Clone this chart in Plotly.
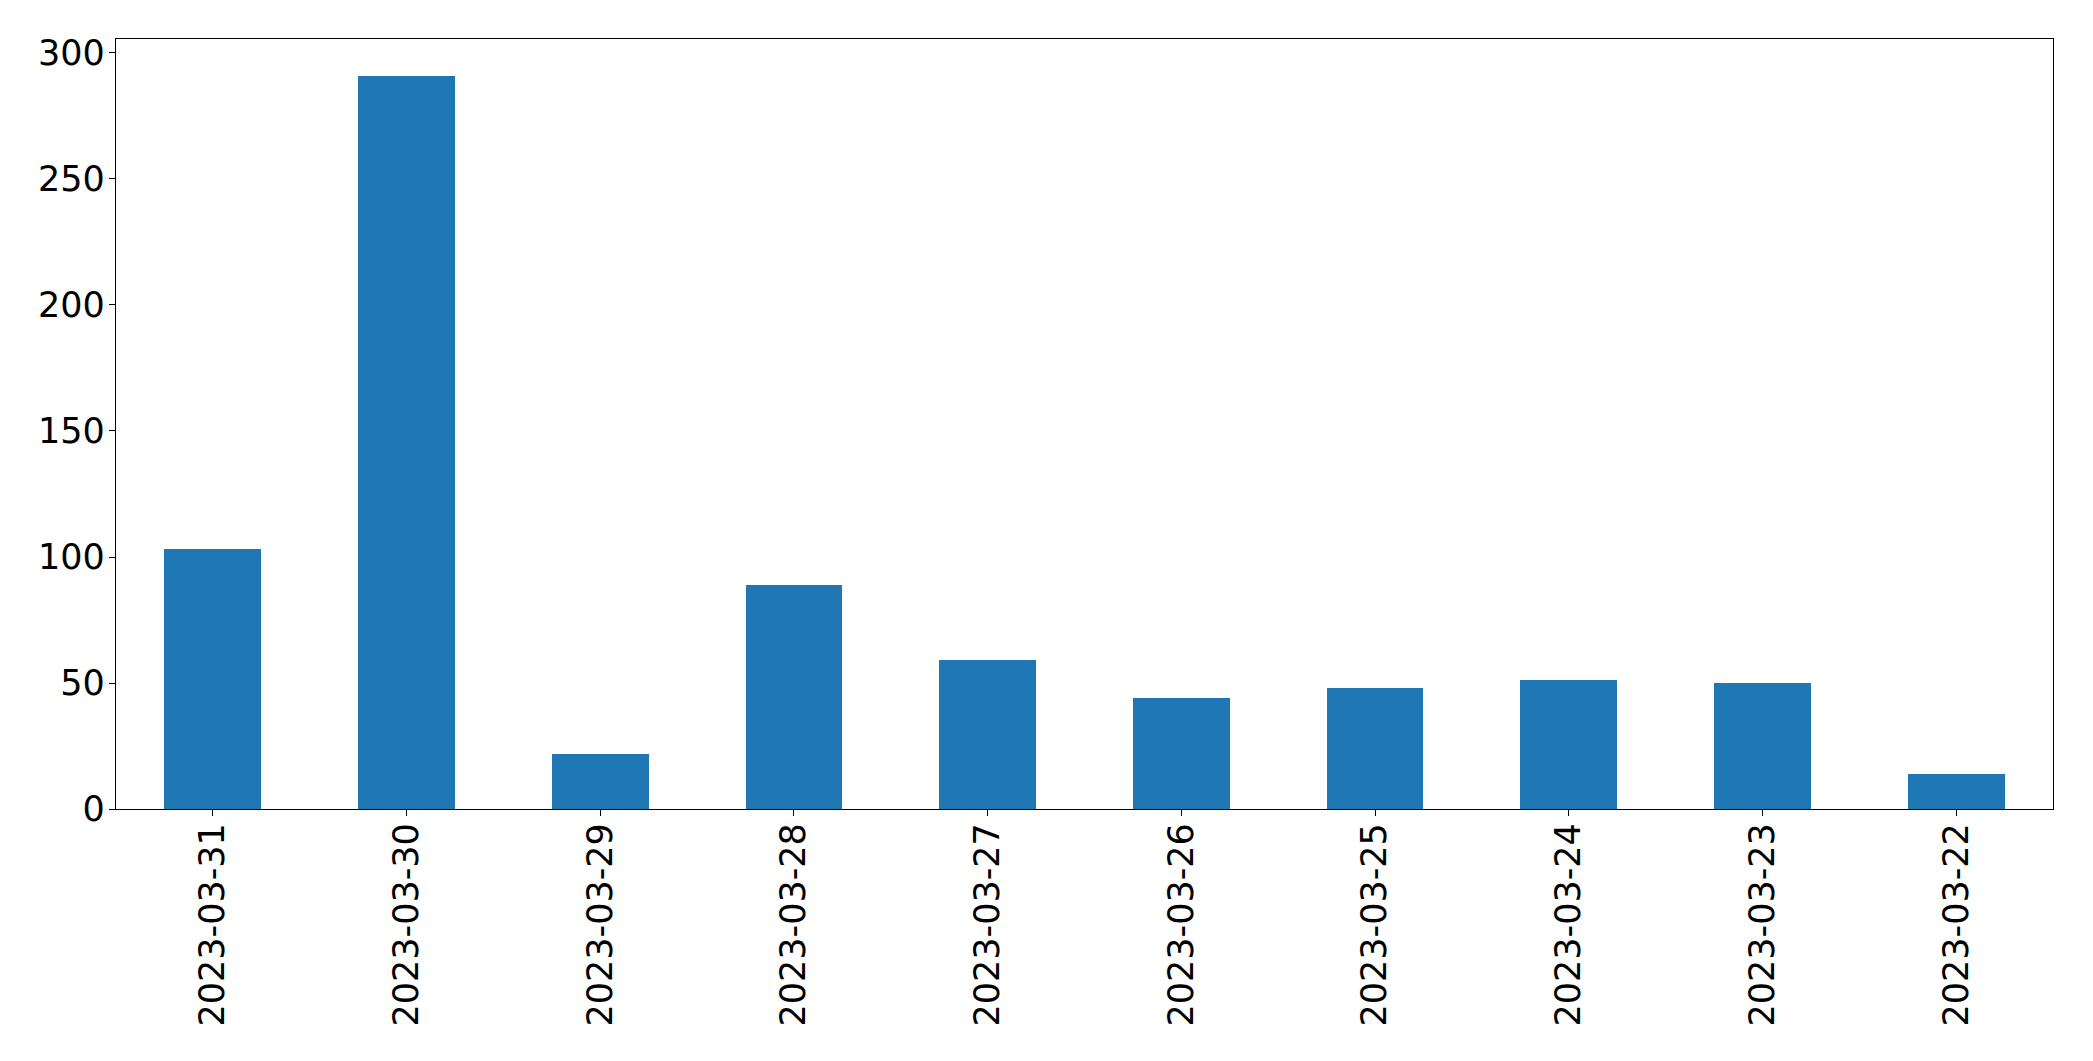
import plotly.graph_objects as go

dates = ["2023-03-31", "2023-03-30", "2023-03-29", "2023-03-28", "2023-03-27",
         "2023-03-26", "2023-03-25", "2023-03-24", "2023-03-23", "2023-03-22"]
counts = [103, 291, 22, 89, 59, 44, 48, 51, 50, 14]
y_ticks = [0, 50, 100, 150, 200, 250, 300]

fig = go.Figure(go.Bar(x=dates, y=counts, width=0.5, marker=dict(color="#1f77b4", line=dict(width=0))))

font = dict(family="DejaVu Sans", size=35, color="black")
fig.update_layout(
    width=2093, height=1061,
    margin=dict(l=116, r=40, t=39, b=252, pad=0),
    paper_bgcolor="white", plot_bgcolor="white",
    showlegend=False, bargap=0,
    font=font,
)
fig.update_xaxes(
    type="category", range=[-0.5, len(dates) - 0.5],
    tickangle=-90, tickfont=font, ticklabelstandoff=-7,
    showline=True, linecolor="black", linewidth=1.3, mirror=True,
    ticks="outside", ticklen=6, tickwidth=1.3, tickcolor="black",
    showgrid=False, zeroline=False,
)
fig.update_yaxes(
    range=[0, max(counts) * 1.05], tickvals=y_ticks,
    tickfont=font, ticklabelstandoff=-3,
    showline=True, linecolor="black", linewidth=1.3, mirror=True,
    ticks="outside", ticklen=6, tickwidth=1.3, tickcolor="black",
    showgrid=False, zeroline=False,
)
fig.write_html("out.html")
